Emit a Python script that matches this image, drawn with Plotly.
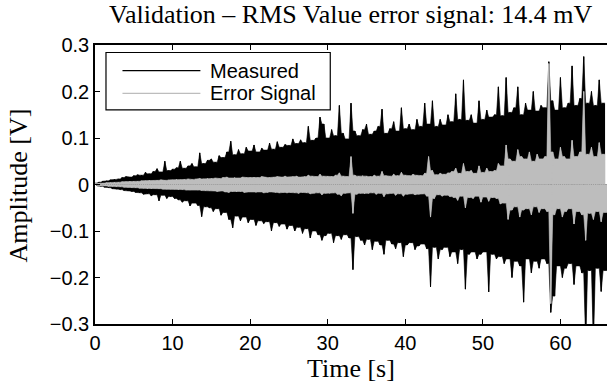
import numpy as np
import plotly.graph_objects as go

# envelope values, in mV, one per 0.5 s bin starting at t = 0
bin_step_s = 0.5
measured_max_mV = [
    3, 5, 7, 8, 10, 11, 12, 15, 17, 16,
    19, 21, 20, 26, 23, 28, 34, 27, 50, 30,
    33, 36, 50, 35, 40, 45, 38, 68, 45, 52,
    55, 48, 62, 58, 70, 93, 64, 75, 66, 80,
    72, 85, 70, 78, 74, 89, 76, 92, 80, 86,
    84, 98, 88, 96, 90, 125, 95, 100, 145, 130,
    100, 118, 105, 170, 110, 98, 175, 115, 105, 118,
    130, 108, 115, 125, 162, 110, 120, 135, 115, 165,
    120, 130, 118, 140, 125, 175, 130, 180, 125, 140,
    128, 150, 135, 195, 140, 225, 138, 150, 132, 180,
    140, 160, 145, 150, 210, 148, 230, 155, 165, 210,
    150, 175, 160, 200, 158, 170, 165, 264, 180, 160,
    230, 165, 175, 255, 170, 185, 275, 175, 200, 170,
    225, 175,
]
measured_min_mV = [
    -3, -4, -6, -7, -9, -10, -11, -13, -14, -15,
    -17, -18, -21, -20, -24, -22, -35, -23, -30, -26,
    -30, -33, -38, -35, -46, -40, -45, -69, -48, -50,
    -58, -52, -66, -60, -75, -93, -68, -78, -70, -82,
    -75, -88, -78, -84, -80, -100, -82, -90, -85, -96,
    -88, -100, -92, -105, -95, -115, -100, -108, -120, -110,
    -105, -125, -110, -118, -108, -115, -183, -112, -120, -130,
    -118, -140, -122, -130, -150, -120, -128, -138, -125, -155,
    -130, -125, -140, -132, -128, -138, -220, -135, -160, -140,
    -135, -155, -145, -170, -140, -225, -150, -145, -160, -150,
    -145, -231, -150, -160, -155, -170, -160, -200, -165, -175,
    -253, -160, -190, -165, -180, -160, -170, -275, -240, -175,
    -200, -180, -170, -215, -175, -190, -340, -185, -340, -180,
    -230, -185,
]
error_max_mV = [
    2, 3, 3, 4, 4, 5, 5, 6, 6, 7,
    7, 7, 8, 8, 9, 8, 9, 10, 9, 10,
    10, 11, 10, 11, 12, 11, 12, 13, 12, 13,
    13, 14, 13, 15, 16, 14, 15, 14, 16, 15,
    15, 16, 15, 17, 16, 15, 16, 17, 16, 18,
    16, 17, 18, 16, 17, 20, 18, 17, 22, 18,
    18, 17, 20, 25, 18, 17, 60, 20, 18, 19,
    18, 17, 20, 18, 28, 19, 18, 22, 19, 26,
    20, 19, 22, 20, 19, 24, 60, 30, 21, 24,
    22, 25, 28, 35, 24, 45, 28, 30, 24, 40,
    26, 35, 28, 30, 45, 40, 85, 55, 50, 75,
    60, 55, 70, 50, 65, 55, 60, 260, 70, 55,
    80, 60, 55, 95, 60, 70, 200, 65, 80, 60,
    90, 65,
]
error_min_mV = [
    -2, -3, -3, -4, -4, -5, -5, -6, -6, -7,
    -7, -8, -8, -9, -9, -8, -9, -10, -10, -10,
    -10, -11, -11, -12, -12, -11, -12, -13, -13, -13,
    -14, -15, -14, -16, -17, -15, -16, -15, -17, -16,
    -16, -17, -16, -18, -17, -16, -17, -18, -17, -18,
    -17, -18, -19, -17, -18, -20, -19, -18, -22, -19,
    -19, -18, -21, -24, -19, -18, -62, -21, -19, -20,
    -19, -18, -21, -19, -26, -20, -19, -23, -20, -25,
    -21, -20, -22, -21, -20, -25, -70, -30, -22, -25,
    -23, -26, -28, -34, -25, -50, -28, -30, -25, -38,
    -27, -36, -28, -30, -42, -40, -75, -55, -48, -70,
    -55, -52, -65, -48, -60, -52, -58, -256, -65, -52,
    -70, -58, -52, -85, -58, -65, -120, -62, -75, -58,
    -80, -60,
]

x_ticks = [0, 10, 20, 30, 40, 50, 60]
y_ticks = [-0.3, -0.2, -0.1, 0, 0.1, 0.2, 0.3]
y_tick_text = ["\u22120.3", "\u22120.2", "\u22120.1", "0", "0.1", "0.2", "0.3"]
x_range = [0, 66]
y_range = [-0.3, 0.3]

title_text = "Validation \u2013 RMS Value error signal: 14.4 mV"
legend_names = ["Measured", "Error Signal"]
colors = ["#000000", "#bdbdbd"]


def peak_outline(t, vals):
    """Outline through each read peak, dipping to the smaller of two neighbours between them."""
    v = np.array(vals, dtype=float) / 1000.0
    nxt = np.append(v[1:], v[-1])
    between = np.where(np.abs(v) < np.abs(nxt), v, nxt)
    xs = np.empty(2 * len(v))
    ys = np.empty(2 * len(v))
    xs[0::2] = t
    xs[1::2] = t + bin_step_s / 2
    ys[0::2] = v
    ys[1::2] = between
    return xs, ys


fig = go.Figure()
for (mx, mn), col, name in zip(
    [(measured_max_mV, measured_min_mV), (error_max_mV, error_min_mV)], colors, legend_names
):
    t0 = np.arange(len(mx)) * bin_step_s
    for tt, vals in ((t0, mx), (t0 + bin_step_s / 2, mn)):
        xs, ys = peak_outline(tt, vals)
        fig.add_trace(go.Scatter(x=xs, y=ys, mode="lines",
                                 line=dict(color=col, width=0.6), fill="tozeroy",
                                 fillcolor=col, showlegend=False, hoverinfo="skip"))
    # oscillation between the read peaks
    xs = np.empty(2 * len(mx))
    ys = np.empty(2 * len(mx))
    xs[0::2] = t0
    xs[1::2] = t0 + bin_step_s / 2
    ys[0::2] = np.array(mx) / 1000.0
    ys[1::2] = np.array(mn) / 1000.0
    fig.add_trace(go.Scatter(x=xs, y=ys, mode="lines", name=name,
                             line=dict(color=col, width=1), showlegend=False,
                             hoverinfo="skip"))

W, H = 607, 390
L, T, R, B = 94.5, 45, 0, 65.7
pw, ph = W - L - R, H - T - B


def px(xp):
    return (xp - L) / pw


def py(yp):
    return (H - B - yp) / ph


tick_font = dict(family="Liberation Sans, Arial", size=20, color="black")
serif = dict(family="Liberation Serif, Times New Roman", size=26, color="black")

fig.update_layout(
    width=W, height=H,
    margin=dict(l=L, r=R, t=T, b=B),
    paper_bgcolor="white", plot_bgcolor="white",
    showlegend=False,
    xaxis=dict(range=x_range, tickvals=x_ticks, ticks="inside", ticklen=5,
               tickcolor="black", tickwidth=1, showline=True, linecolor="black",
               linewidth=1.6, mirror="ticks", showgrid=False, zeroline=False,
               tickfont=tick_font),
    yaxis=dict(range=y_range, tickvals=y_ticks, ticktext=y_tick_text, ticks="inside",
               ticklen=5, tickcolor="black", tickwidth=1, showline=True,
               linecolor="black", linewidth=1.6, mirror=False, showgrid=False,
               zeroline=False, tickfont=tick_font),
)

annotations = [
    dict(text=title_text, x=px(351), y=py(14), xref="paper", yref="paper",
         xanchor="center", yanchor="middle", showarrow=False, font=serif),
    dict(text="Amplitude [V]", x=px(18), y=py(186), xref="paper", yref="paper",
         xanchor="center", yanchor="middle", textangle=-90, showarrow=False, font=serif),
    dict(text="Time [s]", x=px(351), y=py(369), xref="paper", yref="paper",
         xanchor="center", yanchor="middle", showarrow=False, font=serif),
]
shapes = [
    dict(type="rect", xref="paper", yref="paper", x0=px(105.5), x1=px(330),
         y0=py(52.5), y1=py(110), line=dict(color="black", width=1.2),
         fillcolor="white", layer="above"),
]
row_y = [70.7, 93.5]
for name, col, yy in zip(legend_names, colors, row_y):
    shapes.append(dict(type="line", xref="paper", yref="paper", x0=px(122), x1=px(200),
                       y0=py(yy), y1=py(yy), line=dict(color=col, width=1.2), layer="above"))
    annotations.append(dict(text=name, x=px(208), y=py(yy), xref="paper", yref="paper",
                            xanchor="left", yanchor="middle", showarrow=False,
                            font=tick_font))
fig.update_layout(annotations=annotations, shapes=shapes)

fig.write_html("out.html")
